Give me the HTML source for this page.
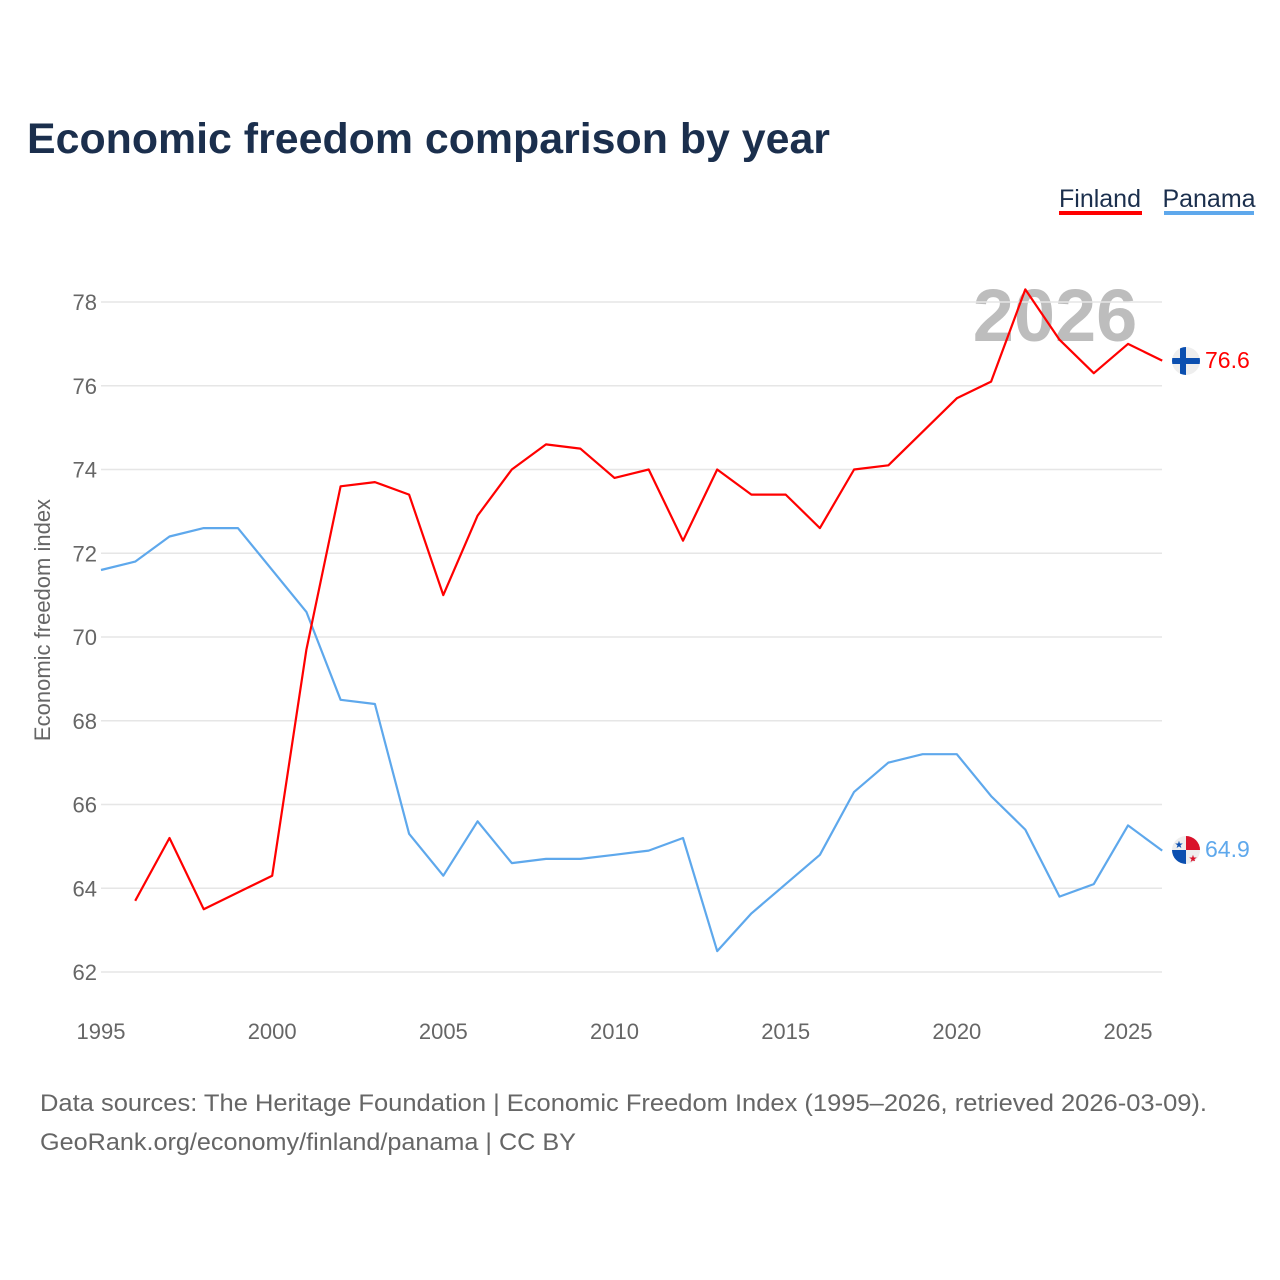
<!DOCTYPE html>
<html><head><meta charset="utf-8"><style>
body{margin:0;background:#fff;font-family:"Liberation Sans",sans-serif}
svg{display:block}
</style></head><body>
<svg id="chart" width="1280" height="1280" viewBox="0 0 1280 1280" xmlns="http://www.w3.org/2000/svg">
<text x="27" y="153" font-size="43" font-weight="bold" fill="#1b2f4d" textLength="803" lengthAdjust="spacingAndGlyphs">Economic freedom comparison by year</text>
<g>
<text x="1100" y="207" font-size="25" fill="#1b2f4d" text-anchor="middle">Finland</text>
<rect x="1059" y="211" width="83" height="4" fill="#ff0000"/>
<text x="1209" y="207" font-size="25" fill="#1b2f4d" text-anchor="middle">Panama</text>
<rect x="1164" y="211" width="90" height="4" fill="#5ea8ec"/>
</g>
<text x="1055" y="341" font-size="74" font-weight="bold" fill="#bdbdbd" text-anchor="middle">2026</text>
<g id="grid"></g><g id="yticks"></g><g id="xticks"></g><g id="lines"></g>
<text transform="translate(50,620) rotate(-90)" font-size="22" fill="#666" text-anchor="middle">Economic freedom index</text>
<g>
<clipPath id="c1"><circle cx="1186" cy="361" r="14"/></clipPath>
<g clip-path="url(#c1)"><rect x="1172" y="347" width="28" height="28" fill="#eee"/><rect x="1172" y="358" width="28" height="6" fill="#0b4fb0"/><rect x="1180" y="347" width="6" height="28" fill="#0b4fb0"/></g></g>
<g>
<clipPath id="c2"><circle cx="1186" cy="850" r="14"/></clipPath>
<g clip-path="url(#c2)"><rect x="1172" y="836" width="28" height="28" fill="#eee"/><rect x="1186" y="836" width="14" height="14" fill="#d9122b"/><rect x="1172" y="850" width="14" height="14" fill="#0b4fb0"/>
<text x="1179" y="848" font-size="10" fill="#0b4fb0" text-anchor="middle">★</text><text x="1193" y="862" font-size="10" fill="#d9122b" text-anchor="middle">★</text></g></g>
<text x="1205" y="368" font-size="23" fill="#ff0000">76.6</text>
<text x="1205" y="857" font-size="23" fill="#5ea8ec">64.9</text>
<text x="40" y="1111" font-size="24" fill="#666" textLength="1167" lengthAdjust="spacingAndGlyphs">Data sources: The Heritage Foundation | Economic Freedom Index (1995–2026, retrieved 2026-03-09).</text>
<text x="40" y="1150" font-size="24" fill="#666" textLength="536" lengthAdjust="spacingAndGlyphs">GeoRank.org/economy/finland/panama | CC BY</text>
</svg>
<script>
const years=[1995,1996,1997,1998,1999,2000,2001,2002,2003,2004,2005,2006,2007,2008,2009,2010,2011,2012,2013,2014,2015,2016,2017,2018,2019,2020,2021,2022,2023,2024,2025,2026];
const finland=[null,63.7,65.2,63.5,null,64.3,69.7,73.6,73.7,73.4,71.0,72.9,74.0,74.6,74.5,73.8,74.0,72.3,74.0,73.4,73.4,72.6,74.0,74.1,74.9,75.7,76.1,78.3,77.1,76.3,77.0,76.6];
const panama=[71.6,71.8,72.4,72.6,72.6,null,70.6,68.5,68.4,65.3,64.3,65.6,64.6,64.7,64.7,64.8,64.9,65.2,62.5,63.4,64.1,64.8,66.3,67.0,67.2,67.2,66.2,65.4,63.8,64.1,65.5,64.9];
const yTicks=[62,64,66,68,70,72,74,76,78];
const xTicks=[1995,2000,2005,2010,2015,2020,2025];
const NS="http://www.w3.org/2000/svg";
const xs=y=>101+(y-1995)*(1027/30);
const ys=v=>302+(78-v)*(670/16);
function mk(t,a,p){const e=document.createElementNS(NS,t);for(const k in a)e.setAttribute(k,a[k]);p.appendChild(e);return e;}
const grid=document.getElementById('grid'),yt=document.getElementById('yticks'),xt=document.getElementById('xticks'),lines=document.getElementById('lines');
yTicks.forEach(v=>{
 const l=mk('line',{x1:101,x2:1162,y1:ys(v),y2:ys(v),stroke:'#e6e6e6','stroke-width':1.5},grid);
 
 
 const t=mk('text',{x:97,y:ys(v)+8,'font-size':22,fill:'#666','text-anchor':'end'},yt);
 t.textContent=v;
 
 
});
xTicks.forEach(v=>{
 const t=mk('text',{x:xs(v),y:1039,'font-size':22,fill:'#666','text-anchor':'middle'},xt);
 t.textContent=v;
 
 
});
function draw(vals,color,name){
 let d='';
 vals.forEach((v,i)=>{if(v===null)return;d+=(d?'L':'M')+xs(years[i]).toFixed(1)+','+ys(v).toFixed(1);});
 const p=mk('path',{d:d,fill:'none',stroke:color,'stroke-width':2.2,'stroke-linejoin':'round'},lines);
 
 
}
draw(panama,'#5ea8ec','panama-line');
draw(finland,'#ff0000','finland-line');
</script>
</body></html>
